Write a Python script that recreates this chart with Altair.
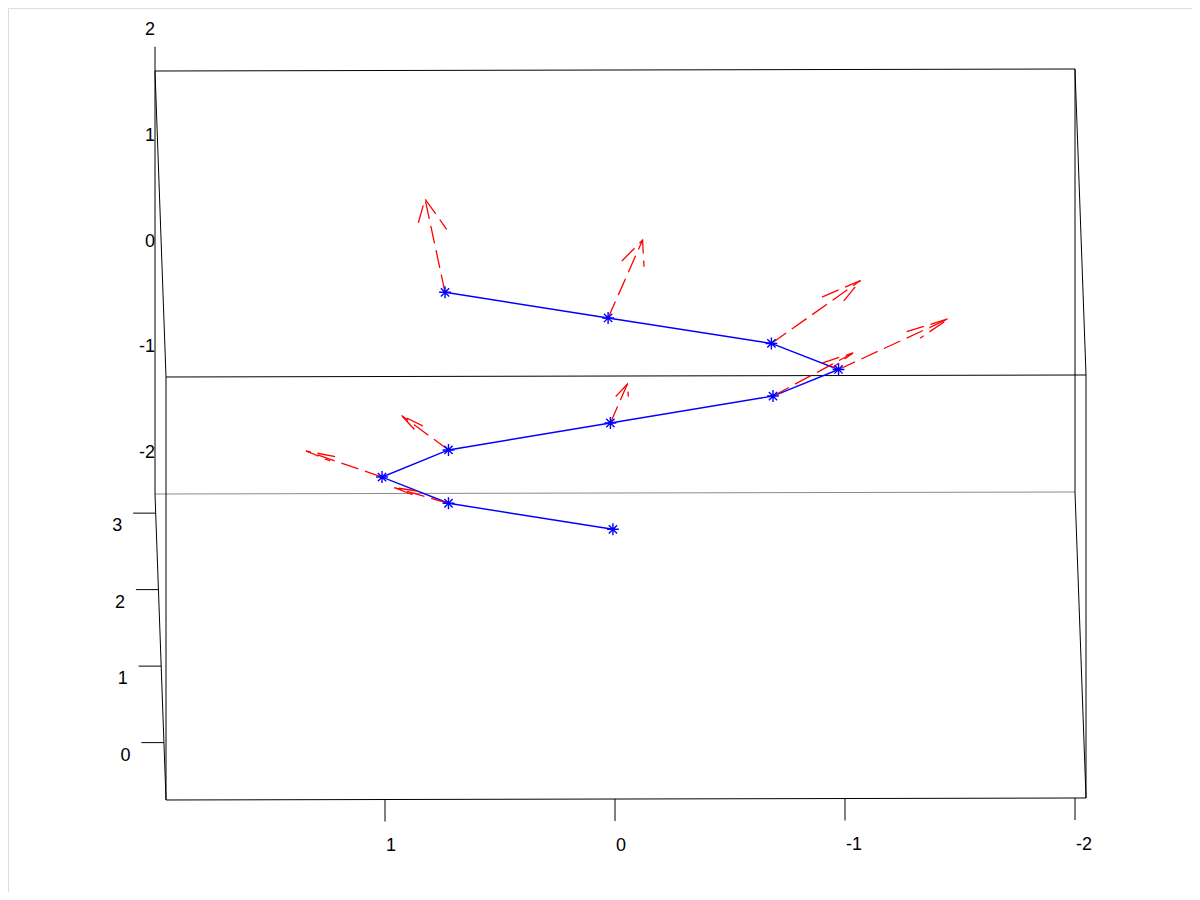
import altair as alt
import pandas as pd

# ---------------- data ----------------
# 3-D box limits
X_LIM = [-2.0, 2.0]
Y_LIM = [-0.75, 3.25]      # depth axis
Z_LIM = [-2.0, 2.0]
Z_AXIS_TOP = 2.23          # z-axis line runs a little above the box

x_ticks = [1, 0, -1, -2]
y_ticks = [3, 2, 1, 0]
z_ticks = [2, 1, 0, -1, -2]

# helix points, in the projected plane (u: x-axis units, v: z-axis units)
pt_u = [0.739, 0.030, -0.680, -0.972, -0.687, 0.020, 0.724, 1.013, 0.724, 0.009]
pt_v = [-0.102, -0.345, -0.586, -0.832, -1.083, -1.338, -1.593, -1.849, -2.097, -2.343]

# arrow tips (arrows start at points 1..9)
tip_u = [0.826, -0.120, -1.067, -1.452, -1.035, -0.054, 0.928, 1.343, 0.961]
tip_v = [0.780, 0.392, 0.009, -0.350, -0.676, -0.969, -1.267, -1.603, -1.948]

# arrow-head barb ends
headA_u = [0.855, -0.030, -0.900, -1.268, -0.900, -0.003, 0.836, 1.217, 0.862]
headA_v = [0.556, 0.194, -0.147, -0.475, -0.771, -1.089, -1.366, -1.657, -1.981]
headB_u = [0.732, -0.126, -0.986, -1.326, -0.943, -0.058, 0.872, 1.239, 0.877]
headB_v = [0.494, 0.140, -0.206, -0.537, -0.818, -1.089, -1.400, -1.697, -2.019]

# ---------------- oblique projection of the box ----------------
DEPTH_U = 0.01196   # u shift per unit of depth
DEPTH_V = 0.7234    # v shift per unit of depth
TILT_V = 0.00473


def proj(x, y, z):
    d = Y_LIM[1] - y
    return x - DEPTH_U * d, z - DEPTH_V * d - TILT_V * x


segs = []


def add_seg(p, q, col="#000000"):
    segs.append({"u": p[0], "v": p[1], "u2": q[0], "v2": q[1], "col": col})


# 12 box edges
for y in Y_LIM:
    for z in Z_LIM:
        col = "#8a8a8a" if (y == Y_LIM[1] and z == Z_LIM[0]) else "#000000"
        add_seg(proj(X_LIM[0], y, z), proj(X_LIM[1], y, z), col)
for x in X_LIM:
    for z in Z_LIM:
        add_seg(proj(x, Y_LIM[0], z), proj(x, Y_LIM[1], z))
    for y in Y_LIM:
        add_seg(proj(x, y, Z_LIM[0]), proj(x, y, Z_LIM[1]))
# z-axis extension
add_seg(proj(X_LIM[1], Y_LIM[1], Z_LIM[1]), proj(X_LIM[1], Y_LIM[1], Z_AXIS_TOP))

# tick marks
X_TICK_LEN = 0.208
Y_TICK_LEN = 0.098
xt_rows, yt_rows, zt_rows = [], [], []
for t in x_ticks:
    top_v = proj(t, Y_LIM[0], Z_LIM[0])[1]
    add_seg((t, top_v), (t, top_v - X_TICK_LEN))
    xt_rows.append({"u": t, "v": top_v - X_TICK_LEN, "label": str(t)})
for t in y_ticks:
    iu, iv = proj(X_LIM[1], t, Z_LIM[0])
    add_seg((iu, iv), (iu + Y_TICK_LEN, iv))
    yt_rows.append({"u": iu + Y_TICK_LEN, "v": iv, "label": str(t)})
for t in z_ticks:
    zu, zv = proj(X_LIM[1], Y_LIM[1], t)
    zt_rows.append({"u": zu, "v": zv, "label": str(t)})

seg_df = pd.DataFrame(segs)
pts_df = pd.DataFrame({"i": range(len(pt_u)), "u": pt_u, "v": pt_v})
shaft_df = pd.DataFrame({"u": pt_u[:9], "v": pt_v[:9], "u2": tip_u, "v2": tip_v})
head_rows = []
for k in range(9):
    head_rows += [
        {"a": k, "o": 0, "u": headA_u[k], "v": headA_v[k]},
        {"a": k, "o": 1, "u": tip_u[k], "v": tip_v[k]},
        {"a": k, "o": 2, "u": headB_u[k], "v": headB_v[k]},
    ]
head_df = pd.DataFrame(head_rows)

# ---------------- scales (plane calibrated to the axes) ----------------
W, H = 1184, 884
PX_U, PX_V = 230.0, 105.75
U0_PX, V0_PX = 607.0, 273.5
xs = alt.Scale(domain=[(U0_PX - W) / PX_U, U0_PX / PX_U], reverse=True, nice=False, zero=False)
ys = alt.Scale(domain=[(V0_PX - H) / PX_V, V0_PX / PX_V], nice=False, zero=False)
X = lambda f: alt.X(f, type="quantitative", scale=xs, axis=None)
Y = lambda f: alt.Y(f, type="quantitative", scale=ys, axis=None)

FONT = "Liberation Sans"
FS = 18

box = alt.Chart(seg_df).mark_rule(strokeWidth=1).encode(
    x=X("u"), y=Y("v"), x2="u2", y2="v2", color=alt.Color("col:N", scale=None)
)

helix = alt.Chart(pts_df).mark_line(color="#0000ff", strokeWidth=1.4).encode(
    x=X("u"), y=Y("v"), order="i:Q"
)

STAR = "M-1,0L1,0M0,-1L0,1M-0.7,-0.7L0.7,0.7M-0.7,0.7L0.7,-0.7"
stars = alt.Chart(pts_df).mark_point(
    shape=STAR, filled=False, color="#0000ff", strokeWidth=1.4, size=140, opacity=1
).encode(x=X("u"), y=Y("v"))

shafts = alt.Chart(shaft_df).mark_rule(
    color="#ff0000", strokeWidth=1.3, strokeDash=[18, 7]
).encode(x=X("u"), y=Y("v"), x2="u2", y2="v2")

heads = alt.Chart(head_df).mark_line(
    color="#ff0000", strokeWidth=1.3, strokeDash=[18, 7]
).encode(x=X("u"), y=Y("v"), detail="a:N", order="o:Q")

xlab = alt.Chart(pd.DataFrame(xt_rows)).mark_text(
    font=FONT, fontSize=FS, align="left", baseline="middle", dx=1, dy=25, color="black"
).encode(x=X("u"), y=Y("v"), text="label:N")

ylab = alt.Chart(pd.DataFrame(yt_rows)).mark_text(
    font=FONT, fontSize=FS, align="center", baseline="middle", dx=-16, dy=13, color="black"
).encode(x=X("u"), y=Y("v"), text="label:N")

zlab = alt.Chart(pd.DataFrame(zt_rows)).mark_text(
    font=FONT, fontSize=FS, align="right", baseline="middle", dx=0, dy=-41, color="black"
).encode(x=X("u"), y=Y("v"), text="label:N")

chart = alt.layer(box, helix, shafts, heads, stars, xlab, ylab, zlab).properties(
    width=W, height=H, autosize=alt.AutoSizeParams(type="none"), padding=0
).configure_view(strokeWidth=0, stroke="transparent").configure(background="white")

chart.save("out.html", embed_options={"renderer": "svg", "actions": False})
